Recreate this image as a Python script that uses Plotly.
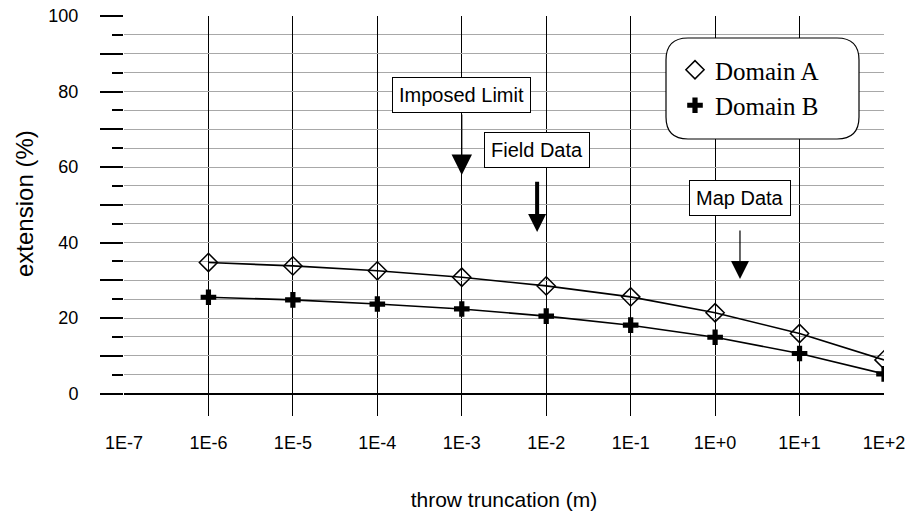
import numpy as np
import plotly.graph_objects as go

# ---- data ----
throw = [1e-6, 1e-5, 1e-4, 1e-3, 1e-2, 1e-1, 1e0, 1e1, 1e2]
domain_a = [34.7, 33.8, 32.5, 30.8, 28.5, 25.6, 21.4, 15.9, 8.9]
domain_b = [25.5, 24.8, 23.7, 22.4, 20.5, 18.1, 14.9, 10.6, 5.2]

x_tickvals = [1e-7, 1e-6, 1e-5, 1e-4, 1e-3, 1e-2, 1e-1, 1e0, 1e1, 1e2]
x_ticktext = ["1E-7", "1E-6", "1E-5", "1E-4", "1E-3", "1E-2", "1E-1", "1E+0", "1E+1", "1E+2"]
y_tickvals = [0, 10, 20, 30, 40, 50, 60, 70, 80, 90, 100]
y_ticktext = ["0", "", "20", "", "40", "", "60", "", "80", "", "100"]
y_minor = [5, 15, 25, 35, 45, 55, 65, 75, 85, 95]

# annotation labels: text, box centre (x, y), arrow tail y, arrow tip (x, y), line width, head size
ann_text = ["Imposed Limit", "Field Data", "Map Data"]
ann_box_x = [1e-3, 0.0078, 1.97]
ann_box_y = [79.1, 64.5, 51.8]
arrow_x = [1e-3, 0.0078, 1.97]
arrow_tail_y = [74.3, 56.5, 43.6]
arrow_tip_y = [57.9, 42.8, 30.3]
arrow_w = [1.2, 4.0, 1.2]
arrow_size = [3.4, 0.9, 3.0]

fig = go.Figure()

# lines
fig.add_trace(go.Scatter(x=throw, y=domain_a, mode="lines", line=dict(color="black", width=1.6),
                         showlegend=False, hoverinfo="skip"))
fig.add_trace(go.Scatter(x=throw, y=domain_b, mode="lines", line=dict(color="black", width=1.6),
                         showlegend=False, hoverinfo="skip"))
# markers
fig.add_trace(go.Scatter(x=throw, y=domain_a, mode="markers", name="Domain A",
                         marker=dict(symbol="diamond-open", size=14, color="black",
                                     line=dict(color="black", width=1.5))))
fig.add_trace(go.Scatter(x=throw, y=domain_b, mode="markers", name="Domain B",
                         marker=dict(symbol="cross", size=13, color="black",
                                     line=dict(width=0))))

L, R, T, B = 124, 25, 16, 98
W, H = 909, 514
pw, ph = W - L - R, H - T - B

def px_to_paper(px, py):
    return (px - L) / pw, (H - B - py) / ph

# rounded legend box
x0, y1 = px_to_paper(666, 38)
x1, y0 = px_to_paper(859, 139)
rx, ry = 22 / pw, 22 / ph
path = (f"M{x0+rx},{y1} L{x1-rx},{y1} Q{x1},{y1} {x1},{y1-ry} L{x1},{y0+ry} "
        f"Q{x1},{y0} {x1-rx},{y0} L{x0+rx},{y0} Q{x0},{y0} {x0},{y0+ry} "
        f"L{x0},{y1-ry} Q{x0},{y1} {x0+rx},{y1} Z")
fig.add_shape(type="path", path=path, xref="paper", yref="paper",
              line=dict(color="black", width=1.2), fillcolor="white", layer="above")

annotations = []
for t, bx, by in zip(ann_text, ann_box_x, ann_box_y):
    annotations.append(dict(x=np.log10(bx), y=by, xref="x", yref="y", text=t, showarrow=False,
                            font=dict(family="Liberation Sans, Arial", size=20, color="black"),
                            bgcolor="white", bordercolor="black", borderwidth=1, borderpad=6))
for ax_, ty, tip, w, s in zip(arrow_x, arrow_tail_y, arrow_tip_y, arrow_w, arrow_size):
    annotations.append(dict(x=np.log10(ax_), y=tip, xref="x", yref="y", text="",
                            showarrow=True, axref="x", ayref="y", ax=np.log10(ax_), ay=ty,
                            arrowhead=2, arrowwidth=w, arrowsize=s, arrowcolor="black",
                            standoff=0, startstandoff=0))
# y-axis title (centred on the 0-100 span, as in the original)
tx, ty_ = px_to_paper(24, 204)
annotations.append(dict(x=tx, y=ty_, xref="paper", yref="paper", xanchor="center", yanchor="middle",
                        text="extension (%)", textangle=-90, showarrow=False,
                        font=dict(family="Liberation Sans, Arial", size=24, color="black")))

fig.update_layout(
    width=W, height=H,
    margin=dict(l=L, r=R, t=T, b=B, pad=0, autoexpand=False),
    paper_bgcolor="white", plot_bgcolor="white",
    font=dict(family="Liberation Sans, Arial", size=18, color="black"),
    showlegend=True,
    legend=dict(x=(675 - L) / pw, y=(H - B - 47) / ph, xanchor="left", yanchor="top",
                bgcolor="rgba(0,0,0,0)", borderwidth=0,
                font=dict(family="Liberation Serif, Times New Roman", size=25, color="black"),
                tracegroupgap=0),
    annotations=annotations,
    xaxis=dict(type="log", range=[-7, 2], tickmode="array", tickvals=x_tickvals, ticktext=x_ticktext,
               showgrid=True, gridcolor="black", gridwidth=1, zeroline=False, showline=False,
               ticks="", ticklabelstandoff=14, automargin=False,
               tickfont=dict(size=18),
               title=dict(text="throw truncation (m)", font=dict(size=21), standoff=40)),
    yaxis=dict(range=[-5.96, 100], tickmode="array", tickvals=y_tickvals, ticktext=y_ticktext,
               showgrid=True, gridcolor="#a8a8a8", gridwidth=1,
               zeroline=True, zerolinecolor="black", zerolinewidth=1.5,
               showline=False, ticks="outside", ticklen=23, tickwidth=1.5, tickcolor="black",
               ticklabelstandoff=18, automargin=False,
               tickfont=dict(size=18),
               minor=dict(tickmode="array", tickvals=y_minor, ticks="outside", ticklen=11,
                          tickwidth=1.5, tickcolor="black", showgrid=True,
                          gridcolor="#a8a8a8", gridwidth=1)),
)

fig.write_html("out.html")
